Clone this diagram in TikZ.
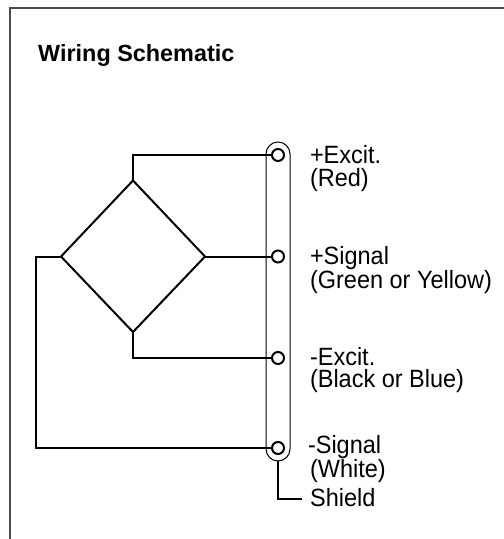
\documentclass[tikz,border=0pt]{standalone}
\usepackage{fontspec}
\setmainfont{Liberation Sans}
\newfontfamily\labfont[FakeStretch=0.94]{Liberation Sans}
\begin{document}
\begin{tikzpicture}[x=1pt,y=-1pt,
  wire/.style={draw=black,line width=2pt,line cap=butt,line join=miter},
  thin line/.style={draw=black,line width=1pt},
  term/.style={circle,draw=black,line width=2pt,fill=white,minimum size=12pt,inner sep=0pt},
  lab/.style={anchor=north west,inner sep=0pt,outer sep=0pt,align=left,font=\labfont\fontsize{25}{22.5}\selectfont}]
\useasboundingbox (0,0) rectangle (504,539);
\draw[draw=black!70,line width=1.3pt] (10,539) -- (10,8) -- (504,8);
\draw[thin line] (266,154) arc[start angle=180,end angle=360,radius=12] -- (290,449) arc[start angle=0,end angle=180,radius=12] -- cycle;
\coordinate (dt) at (133,180.5);
\coordinate (dr) at (205,256.5);
\coordinate (db) at (133,332);
\coordinate (dl) at (61,256.5);
\coordinate (sb) at (278,461);
\coordinate (se) at (302,499);
\node[term] (t1) at (278,155) {};
\node[term] (t2) at (278,256.5) {};
\node[term] (t3) at (278,358) {};
\node[term] (t4) at (278,448) {};
\draw[wire] (dt) -- (dr) -- (db) -- (dl) -- cycle;
\draw[wire] (dt) |- (t1);
\draw[wire] (dr) -- (t2);
\draw[wire] (db) |- (t3);
\draw[wire] (dl) -- (36,256.5) |- (t4);
\draw[wire] (sb) |- (se);
\node[anchor=base west,inner sep=0pt,font=\fontsize{23.4}{26}\selectfont\bfseries] (title) at (38,61) {Wiring Schematic};
\node[lab] (l1) at (310,145.5) {+Excit.\\(Red)};
\node[lab] (l2) at (310,246) {+Signal\\(Green or Yellow)};
\node[lab] (l3) at (310,347) {-Excit.\\(Black or Blue)};
\node[lab] (l4) at (308,435) {-Signal\\\hspace*{2pt}(White)};
\node[anchor=base west,inner sep=0pt,font=\labfont\fontsize{25}{26}\selectfont] (l5) at (310,506) {Shield};
\end{tikzpicture}
\end{document}
